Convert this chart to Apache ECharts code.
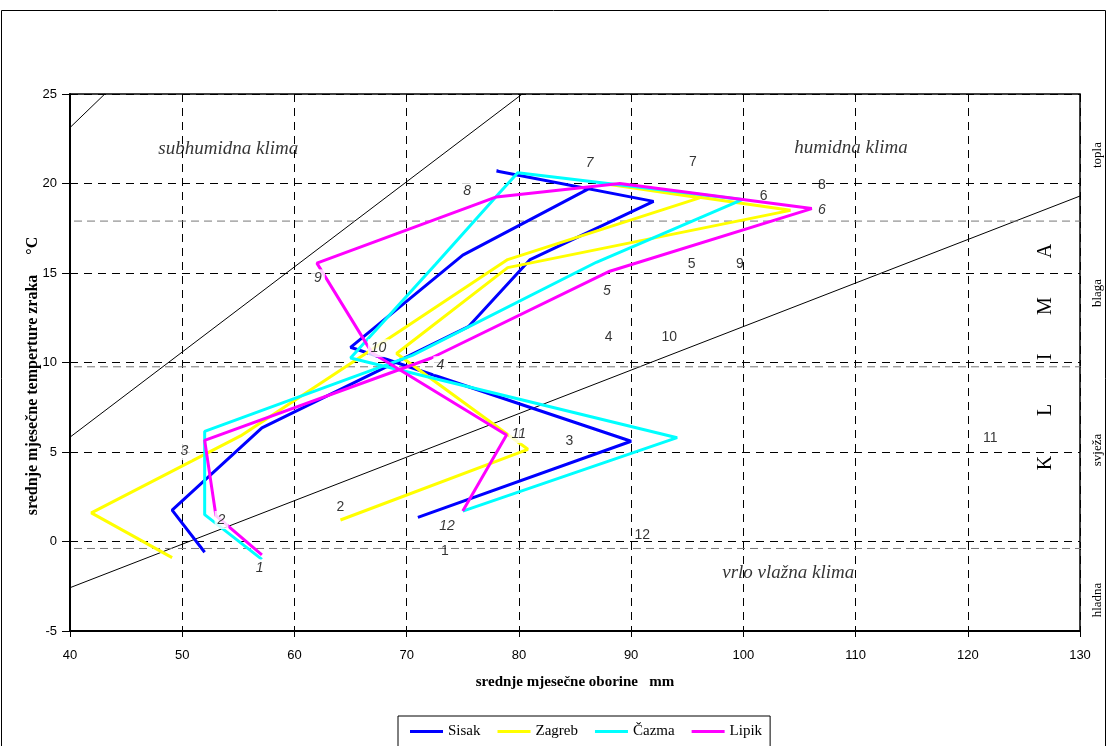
<!DOCTYPE html>
<html><head><meta charset="utf-8">
<script src="https://cdn.jsdelivr.net/npm/echarts@6/dist/echarts.min.js"></script>
<style>html,body{margin:0;padding:0;background:#fff}#c{width:1108px;height:746px}</style>
</head><body><div id="c"></div>
<script>
// ---- data ----
const stations = ['Sisak', 'Zagreb', 'Čazma', 'Lipik'];
const stationColors = ['#0000FF', '#FFFF00', '#00FFFF', '#FF00FF'];
const months = ['1','2','3','4','5','6','7','8','9','10','11','12'];
// precipitation (mm) and temperature (°C), months 1..12
const sisakP  = [52.0, 49.1, 57.1, 75.5, 81.0, 92.0, 78.0, 86.2, 75.0, 65.0, 90.0, 71.0];
const sisakT  = [-0.6, 1.75, 6.35, 12.0, 15.75, 19.0, 20.7, 19.7, 16.0, 10.85, 5.6, 1.35];
const zagrebP = [49.1, 41.9, 55.2, 69.5, 79.0, 96.1, 87.5, 104.2, 79.0, 69.1, 80.8, 64.1];
const zagrebT = [-0.9, 1.6, 5.9, 11.8, 15.75, 19.2, 20.0, 18.5, 15.3, 10.5, 5.15, 1.2];
const cazmaP  = [57.1, 52.0, 52.0, 70.5, 86.9, 99.9, 79.9, 78.3, 72.6, 65.0, 94.1, 75.0];
const cazmaT  = [-1.0, 1.5, 6.15, 10.4, 15.6, 19.1, 20.6, 19.5, 15.5, 10.25, 5.8, 1.7];
const lipikP  = [57.1, 53.0, 52.0, 72.2, 88.1, 106.1, 89.0, 78.0, 62.0, 66.9, 78.9, 75.0];
const lipikT  = [-0.75, 1.45, 5.65, 10.25, 15.1, 18.6, 20.0, 19.25, 15.55, 10.55, 5.95, 1.7];

const xTicks = [40, 50, 60, 70, 80, 90, 100, 110, 120, 130];
const yTicks = [-5, 0, 5, 10, 15, 20, 25];

// climate boundary lines (precipitation, temperature)
const lineA = [[39.3, 22.7], [43.1, 25.0]];
const lineB = [[39.1, 5.4], [80.3, 25.0]];
const lineC = [[39.1, -2.8], [130.0, 19.3]];
// thermal class boundaries (°C)
const classBounds = [17.9, 9.76, -0.39];
const classX = [39.2, 132.5];

// month labels (italic, boxed) and plain month labels, positions in data units
const italicMonthLabels = [
  [56.9, -1.5, '1'], [53.5, 1.2, '2'], [50.2, 5.05, '3'], [73.0, 9.85, '4'],
  [87.85, 14.0, '5'], [107.0, 18.5, '6'], [86.3, 21.15, '7'], [75.4, 19.6, '8'],
  [62.1, 14.7, '9'], [67.5, 10.8, '10'], [80.0, 6.0, '11'], [73.6, 0.85, '12']
];
const plainMonthLabels = [
  [73.4, -0.55, '1'], [64.1, 1.9, '2'], [84.5, 5.6, '3'], [88.0, 11.4, '4'],
  [95.4, 15.5, '5'], [101.8, 19.3, '6'], [95.5, 21.2, '7'], [107.0, 19.9, '8'],
  [99.7, 15.5, '9'], [93.4, 11.4, '10'], [122.0, 5.8, '11'], [91.0, 0.35, '12']
];
const zoneLabels = [
  [54.1, 21.9, 'subhumidna klima'],
  [109.6, 22.0, 'humidna klima'],
  [104.0, -1.75, 'vrlo vlažna klima']
];
const thermalClasses = [['topla', 155], ['blaga', 293], ['svježa', 450], ['hladna', 600]];
const klimaLetters = [['K', 463], ['L', 410], ['I', 357], ['M', 306], ['A', 251]];

// ---- chart ----
const zip = (a, b) => a.map((v, i) => [v, b[i]]);
const stationData = [zip(sisakP, sisakT), zip(zagrebP, zagrebT), zip(cazmaP, cazmaT), zip(lipikP, lipikT)];

const series = [];
[lineA, lineB, lineC].forEach(l => series.push({
  type: 'line', data: l, symbol: 'none', clip: false, silent: true, z: 1,
  lineStyle: { color: '#000', width: 1 }
}));
classBounds.forEach(t => series.push({
  type: 'line', data: classX.map(x => [x, t]), symbol: 'none', clip: false, silent: true, z: 1,
  lineStyle: { color: '#777', width: 1, type: [8, 5] }
}));
stations.forEach((s, i) => series.push({
  name: s, type: 'line', data: stationData[i], symbol: 'none', showSymbol: false, z: 3,
  color: stationColors[i], lineStyle: { color: stationColors[i], width: 3 }
}));
series.push({
  type: 'scatter', data: italicMonthLabels, symbolSize: 0, silent: true, z: 10,
  label: { show: true, position: 'inside', formatter: p => p.data[2],
    fontFamily: 'Liberation Sans', fontStyle: 'italic', fontSize: 14, color: '#000',
    backgroundColor: '#fff', padding: [2, 3] }
});
series.push({
  type: 'scatter', data: plainMonthLabels, symbolSize: 0, silent: true, z: 10,
  label: { show: true, position: 'inside', formatter: p => p.data[2],
    fontFamily: 'Liberation Sans', fontSize: 14, color: '#000' }
});
series.push({
  type: 'scatter', data: zoneLabels, symbolSize: 0, silent: true, z: 10,
  label: { show: true, position: 'inside', formatter: p => p.data[2],
    fontFamily: 'Liberation Serif', fontStyle: 'italic', fontSize: 19, color: '#000' }
});

const graphic = [
  { type: 'rect', shape: { x: 1.5, y: 10.5, width: 1104, height: 760 },
    style: { fill: 'none', stroke: '#000', lineWidth: 1 }, z: 0, silent: true },
  { type: 'text', x: 33, y: 376, rotation: Math.PI / 2,
    style: { text: 'srednje mjesečne temperture zraka     °C', font: 'bold 16px "Liberation Serif"',
      fill: '#000', textAlign: 'center', textVerticalAlign: 'middle' } }
];
thermalClasses.forEach(([t, y]) => graphic.push({
  type: 'text', x: 1098, y: y, rotation: Math.PI / 2,
  style: { text: t, font: '13px "Liberation Serif"', fill: '#000', textAlign: 'center', textVerticalAlign: 'middle' }
}));
klimaLetters.forEach(([t, y]) => graphic.push({
  type: 'text', x: 1046, y: y, rotation: Math.PI / 2,
  style: { text: t, font: '20px "Liberation Serif"', fill: '#000', textAlign: 'center', textVerticalAlign: 'middle' }
}));

const chart = echarts.init(document.getElementById('c'), null, { renderer: 'canvas' });
chart.setOption({
  animation: false,
  backgroundColor: '#fff',
  grid: { left: 70, right: 28, top: 94, bottom: 115, show: true, borderColor: '#000', borderWidth: 1.5, backgroundColor: 'transparent' },
  xAxis: {
    type: 'value', min: xTicks[0], max: xTicks[xTicks.length - 1], interval: 10,
    name: 'srednje mjesečne oborine   mm', nameLocation: 'middle', nameGap: 44,
    nameTextStyle: { fontFamily: 'Liberation Serif', fontWeight: 'bold', fontSize: 15, color: '#000' },
    axisLine: { show: true, onZero: false, lineStyle: { color: '#000', width: 2 } },
    axisTick: { show: true, length: 6, lineStyle: { color: '#000' } },
    axisLabel: { color: '#000', fontFamily: 'Liberation Sans', fontSize: 13, margin: 18 },
    splitLine: { show: true, lineStyle: { color: '#000', width: 1, type: [8, 6] } }
  },
  yAxis: {
    type: 'value', min: yTicks[0], max: yTicks[yTicks.length - 1], interval: 5,
    axisLine: { show: true, onZero: false, lineStyle: { color: '#000', width: 2 } },
    axisTick: { show: true, length: 8, lineStyle: { color: '#000' } },
    axisLabel: { color: '#000', fontFamily: 'Liberation Sans', fontSize: 13, margin: 13 },
    splitLine: { show: true, lineStyle: { color: '#000', width: 1, type: [8, 6] } }
  },
  legend: {
    data: stations, left: 398, top: 716, itemWidth: 33, itemHeight: 3, icon: 'rect', itemGap: 17,
    borderColor: '#000', borderWidth: 1, borderRadius: 0, padding: [8, 8, 12, 12],
    textStyle: { fontFamily: 'Liberation Serif', fontSize: 15, color: '#000' }
  },
  graphic: graphic,
  series: series
});
</script>
</body></html>
